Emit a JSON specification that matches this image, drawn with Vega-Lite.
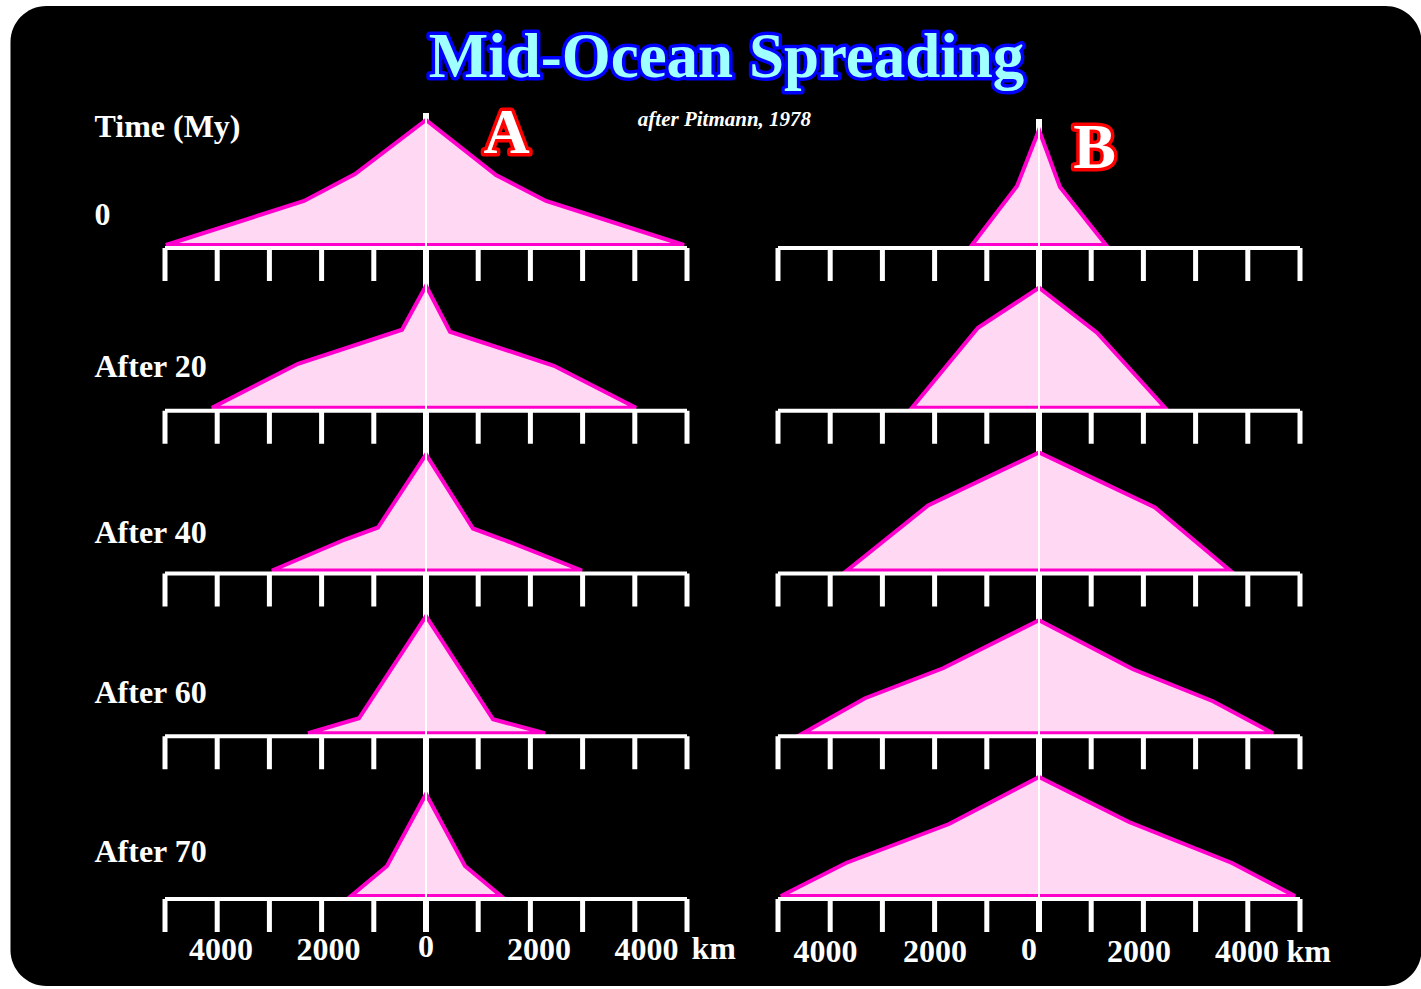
{
  "$schema": "https://vega.github.io/schema/vega-lite/v6.json",
  "background": "white",
  "padding": {"left": 10, "top": 6, "right": 0, "bottom": 3},
  "data": {"values": [
    {"kind": "panel", "col": "A", "row": 0, "top": 135},
    {"kind": "panel", "col": "A", "row": 1, "top": 133},
    {"kind": "panel", "col": "A", "row": 2, "top": 133},
    {"kind": "panel", "col": "A", "row": 3, "top": 133},
    {"kind": "panel", "col": "A", "row": 4, "top": 133},
    {"kind": "panel", "col": "B", "row": 0, "top": 129},
    {"kind": "panel", "col": "B", "row": 1, "top": 133},
    {"kind": "panel", "col": "B", "row": 2, "top": 133},
    {"kind": "panel", "col": "B", "row": 3, "top": 133},
    {"kind": "panel", "col": "B", "row": 4, "top": 133},

    {"kind": "t", "col": "A", "row": 0, "tk": -5000}, {"kind": "t", "col": "A", "row": 0, "tk": -4000}, {"kind": "t", "col": "A", "row": 0, "tk": -3000}, {"kind": "t", "col": "A", "row": 0, "tk": -2000}, {"kind": "t", "col": "A", "row": 0, "tk": -1000}, {"kind": "t", "col": "A", "row": 0, "tk": 0}, {"kind": "t", "col": "A", "row": 0, "tk": 1000}, {"kind": "t", "col": "A", "row": 0, "tk": 2000}, {"kind": "t", "col": "A", "row": 0, "tk": 3000}, {"kind": "t", "col": "A", "row": 0, "tk": 4000}, {"kind": "t", "col": "A", "row": 0, "tk": 5000},
    {"kind": "t", "col": "A", "row": 1, "tk": -5000}, {"kind": "t", "col": "A", "row": 1, "tk": -4000}, {"kind": "t", "col": "A", "row": 1, "tk": -3000}, {"kind": "t", "col": "A", "row": 1, "tk": -2000}, {"kind": "t", "col": "A", "row": 1, "tk": -1000}, {"kind": "t", "col": "A", "row": 1, "tk": 0}, {"kind": "t", "col": "A", "row": 1, "tk": 1000}, {"kind": "t", "col": "A", "row": 1, "tk": 2000}, {"kind": "t", "col": "A", "row": 1, "tk": 3000}, {"kind": "t", "col": "A", "row": 1, "tk": 4000}, {"kind": "t", "col": "A", "row": 1, "tk": 5000},
    {"kind": "t", "col": "A", "row": 2, "tk": -5000}, {"kind": "t", "col": "A", "row": 2, "tk": -4000}, {"kind": "t", "col": "A", "row": 2, "tk": -3000}, {"kind": "t", "col": "A", "row": 2, "tk": -2000}, {"kind": "t", "col": "A", "row": 2, "tk": -1000}, {"kind": "t", "col": "A", "row": 2, "tk": 0}, {"kind": "t", "col": "A", "row": 2, "tk": 1000}, {"kind": "t", "col": "A", "row": 2, "tk": 2000}, {"kind": "t", "col": "A", "row": 2, "tk": 3000}, {"kind": "t", "col": "A", "row": 2, "tk": 4000}, {"kind": "t", "col": "A", "row": 2, "tk": 5000},
    {"kind": "t", "col": "A", "row": 3, "tk": -5000}, {"kind": "t", "col": "A", "row": 3, "tk": -4000}, {"kind": "t", "col": "A", "row": 3, "tk": -3000}, {"kind": "t", "col": "A", "row": 3, "tk": -2000}, {"kind": "t", "col": "A", "row": 3, "tk": -1000}, {"kind": "t", "col": "A", "row": 3, "tk": 0}, {"kind": "t", "col": "A", "row": 3, "tk": 1000}, {"kind": "t", "col": "A", "row": 3, "tk": 2000}, {"kind": "t", "col": "A", "row": 3, "tk": 3000}, {"kind": "t", "col": "A", "row": 3, "tk": 4000}, {"kind": "t", "col": "A", "row": 3, "tk": 5000},
    {"kind": "t", "col": "A", "row": 4, "tk": -5000}, {"kind": "t", "col": "A", "row": 4, "tk": -4000}, {"kind": "t", "col": "A", "row": 4, "tk": -3000}, {"kind": "t", "col": "A", "row": 4, "tk": -2000}, {"kind": "t", "col": "A", "row": 4, "tk": -1000}, {"kind": "t", "col": "A", "row": 4, "tk": 0}, {"kind": "t", "col": "A", "row": 4, "tk": 1000}, {"kind": "t", "col": "A", "row": 4, "tk": 2000}, {"kind": "t", "col": "A", "row": 4, "tk": 3000}, {"kind": "t", "col": "A", "row": 4, "tk": 4000}, {"kind": "t", "col": "A", "row": 4, "tk": 5000},
    {"kind": "t", "col": "B", "row": 0, "tk": -5000}, {"kind": "t", "col": "B", "row": 0, "tk": -4000}, {"kind": "t", "col": "B", "row": 0, "tk": -3000}, {"kind": "t", "col": "B", "row": 0, "tk": -2000}, {"kind": "t", "col": "B", "row": 0, "tk": -1000}, {"kind": "t", "col": "B", "row": 0, "tk": 0}, {"kind": "t", "col": "B", "row": 0, "tk": 1000}, {"kind": "t", "col": "B", "row": 0, "tk": 2000}, {"kind": "t", "col": "B", "row": 0, "tk": 3000}, {"kind": "t", "col": "B", "row": 0, "tk": 4000}, {"kind": "t", "col": "B", "row": 0, "tk": 5000},
    {"kind": "t", "col": "B", "row": 1, "tk": -5000}, {"kind": "t", "col": "B", "row": 1, "tk": -4000}, {"kind": "t", "col": "B", "row": 1, "tk": -3000}, {"kind": "t", "col": "B", "row": 1, "tk": -2000}, {"kind": "t", "col": "B", "row": 1, "tk": -1000}, {"kind": "t", "col": "B", "row": 1, "tk": 0}, {"kind": "t", "col": "B", "row": 1, "tk": 1000}, {"kind": "t", "col": "B", "row": 1, "tk": 2000}, {"kind": "t", "col": "B", "row": 1, "tk": 3000}, {"kind": "t", "col": "B", "row": 1, "tk": 4000}, {"kind": "t", "col": "B", "row": 1, "tk": 5000},
    {"kind": "t", "col": "B", "row": 2, "tk": -5000}, {"kind": "t", "col": "B", "row": 2, "tk": -4000}, {"kind": "t", "col": "B", "row": 2, "tk": -3000}, {"kind": "t", "col": "B", "row": 2, "tk": -2000}, {"kind": "t", "col": "B", "row": 2, "tk": -1000}, {"kind": "t", "col": "B", "row": 2, "tk": 0}, {"kind": "t", "col": "B", "row": 2, "tk": 1000}, {"kind": "t", "col": "B", "row": 2, "tk": 2000}, {"kind": "t", "col": "B", "row": 2, "tk": 3000}, {"kind": "t", "col": "B", "row": 2, "tk": 4000}, {"kind": "t", "col": "B", "row": 2, "tk": 5000},
    {"kind": "t", "col": "B", "row": 3, "tk": -5000}, {"kind": "t", "col": "B", "row": 3, "tk": -4000}, {"kind": "t", "col": "B", "row": 3, "tk": -3000}, {"kind": "t", "col": "B", "row": 3, "tk": -2000}, {"kind": "t", "col": "B", "row": 3, "tk": -1000}, {"kind": "t", "col": "B", "row": 3, "tk": 0}, {"kind": "t", "col": "B", "row": 3, "tk": 1000}, {"kind": "t", "col": "B", "row": 3, "tk": 2000}, {"kind": "t", "col": "B", "row": 3, "tk": 3000}, {"kind": "t", "col": "B", "row": 3, "tk": 4000}, {"kind": "t", "col": "B", "row": 3, "tk": 5000},
    {"kind": "t", "col": "B", "row": 4, "tk": -5000}, {"kind": "t", "col": "B", "row": 4, "tk": -4000}, {"kind": "t", "col": "B", "row": 4, "tk": -3000}, {"kind": "t", "col": "B", "row": 4, "tk": -2000}, {"kind": "t", "col": "B", "row": 4, "tk": -1000}, {"kind": "t", "col": "B", "row": 4, "tk": 0}, {"kind": "t", "col": "B", "row": 4, "tk": 1000}, {"kind": "t", "col": "B", "row": 4, "tk": 2000}, {"kind": "t", "col": "B", "row": 4, "tk": 3000}, {"kind": "t", "col": "B", "row": 4, "tk": 4000}, {"kind": "t", "col": "B", "row": 4, "tk": 5000},

    {"kind": "p", "col": "A", "row": 0, "km": -4981, "h": 3},
    {"kind": "p", "col": "A", "row": 0, "km": -2337, "h": 47},
    {"kind": "p", "col": "A", "row": 0, "km": -1360, "h": 74},
    {"kind": "p", "col": "A", "row": 0, "km": 0, "h": 128},
    {"kind": "p", "col": "A", "row": 0, "km": 1341, "h": 73},
    {"kind": "p", "col": "A", "row": 0, "km": 2299, "h": 47},
    {"kind": "p", "col": "A", "row": 0, "km": 4943, "h": 3},

    {"kind": "p", "col": "A", "row": 1, "km": -4100, "h": 3},
    {"kind": "p", "col": "A", "row": 1, "km": -2452, "h": 47},
    {"kind": "p", "col": "A", "row": 1, "km": -460, "h": 81},
    {"kind": "p", "col": "A", "row": 1, "km": 0, "h": 125},
    {"kind": "p", "col": "A", "row": 1, "km": 460, "h": 79},
    {"kind": "p", "col": "A", "row": 1, "km": 2452, "h": 45},
    {"kind": "p", "col": "A", "row": 1, "km": 4023, "h": 3},

    {"kind": "p", "col": "A", "row": 2, "km": -2950, "h": 3},
    {"kind": "p", "col": "A", "row": 2, "km": -1552, "h": 34},
    {"kind": "p", "col": "A", "row": 2, "km": -920, "h": 46},
    {"kind": "p", "col": "A", "row": 2, "km": 0, "h": 119},
    {"kind": "p", "col": "A", "row": 2, "km": 900, "h": 45},
    {"kind": "p", "col": "A", "row": 2, "km": 1475, "h": 34},
    {"kind": "p", "col": "A", "row": 2, "km": 2988, "h": 3},

    {"kind": "p", "col": "A", "row": 3, "km": -2260, "h": 3},
    {"kind": "p", "col": "A", "row": 3, "km": -1284, "h": 18},
    {"kind": "p", "col": "A", "row": 3, "km": 0, "h": 120},
    {"kind": "p", "col": "A", "row": 3, "km": 1284, "h": 17},
    {"kind": "p", "col": "A", "row": 3, "km": 2280, "h": 3},

    {"kind": "p", "col": "A", "row": 4, "km": -1437, "h": 3},
    {"kind": "p", "col": "A", "row": 4, "km": -747, "h": 33},
    {"kind": "p", "col": "A", "row": 4, "km": 0, "h": 105},
    {"kind": "p", "col": "A", "row": 4, "km": 747, "h": 33},
    {"kind": "p", "col": "A", "row": 4, "km": 1437, "h": 3},

    {"kind": "p", "col": "B", "row": 0, "km": -1284, "h": 3},
    {"kind": "p", "col": "B", "row": 0, "km": -421, "h": 62},
    {"kind": "p", "col": "B", "row": 0, "km": 0, "h": 118},
    {"kind": "p", "col": "B", "row": 0, "km": 402, "h": 61},
    {"kind": "p", "col": "B", "row": 0, "km": 1284, "h": 3},

    {"kind": "p", "col": "B", "row": 1, "km": -2433, "h": 3},
    {"kind": "p", "col": "B", "row": 1, "km": -1169, "h": 83},
    {"kind": "p", "col": "B", "row": 1, "km": 0, "h": 123},
    {"kind": "p", "col": "B", "row": 1, "km": 1111, "h": 78},
    {"kind": "p", "col": "B", "row": 1, "km": 2414, "h": 3},

    {"kind": "p", "col": "B", "row": 2, "km": -3678, "h": 3},
    {"kind": "p", "col": "B", "row": 2, "km": -2126, "h": 68},
    {"kind": "p", "col": "B", "row": 2, "km": 0, "h": 121},
    {"kind": "p", "col": "B", "row": 2, "km": 2222, "h": 66},
    {"kind": "p", "col": "B", "row": 2, "km": 3659, "h": 3},

    {"kind": "p", "col": "B", "row": 3, "km": -4521, "h": 3},
    {"kind": "p", "col": "B", "row": 3, "km": -3333, "h": 38},
    {"kind": "p", "col": "B", "row": 3, "km": -1839, "h": 68},
    {"kind": "p", "col": "B", "row": 3, "km": 0, "h": 116},
    {"kind": "p", "col": "B", "row": 3, "km": 1801, "h": 67},
    {"kind": "p", "col": "B", "row": 3, "km": 3333, "h": 35},
    {"kind": "p", "col": "B", "row": 3, "km": 4483, "h": 3},

    {"kind": "p", "col": "B", "row": 4, "km": -4943, "h": 3},
    {"kind": "p", "col": "B", "row": 4, "km": -3697, "h": 36},
    {"kind": "p", "col": "B", "row": 4, "km": -1724, "h": 75},
    {"kind": "p", "col": "B", "row": 4, "km": 0, "h": 122},
    {"kind": "p", "col": "B", "row": 4, "km": 1724, "h": 77},
    {"kind": "p", "col": "B", "row": 4, "km": 3697, "h": 36},
    {"kind": "p", "col": "B", "row": 4, "km": 4904, "h": 3},

    {"kind": "lab", "col": "A", "row": 0, "km": -6351, "h": 111, "t": "Time (My)"},
    {"kind": "lab", "col": "A", "row": 0, "km": -6351, "h": 23, "t": "0"},
    {"kind": "lab", "col": "A", "row": 1, "km": -6351, "h": 34, "t": "After 20"},
    {"kind": "lab", "col": "A", "row": 2, "km": -6351, "h": 30.5, "t": "After 40"},
    {"kind": "lab", "col": "A", "row": 3, "km": -6351, "h": 33, "t": "After 60"},
    {"kind": "lab", "col": "A", "row": 4, "km": -6351, "h": 37, "t": "After 70"},

    {"kind": "tl", "col": "A", "row": 4, "km": -3927, "h": -61, "t": "4000"},
    {"kind": "tl", "col": "A", "row": 4, "km": -1868, "h": -61, "t": "2000"},
    {"kind": "tl", "col": "A", "row": 4, "km": 0, "h": -58, "t": "0"},
    {"kind": "tl", "col": "A", "row": 4, "km": 2165, "h": -61, "t": "2000"},
    {"kind": "tl", "col": "A", "row": 4, "km": 4224, "h": -61, "t": "4000"},
    {"kind": "tl", "col": "B", "row": 4, "km": -4090, "h": -63, "t": "4000"},
    {"kind": "tl", "col": "B", "row": 4, "km": -1992, "h": -63, "t": "2000"},
    {"kind": "tl", "col": "B", "row": 4, "km": -192, "h": -61, "t": "0"},
    {"kind": "tl", "col": "B", "row": 4, "km": 1916, "h": -63, "t": "2000"},
    {"kind": "tl", "col": "B", "row": 4, "km": 3985, "h": -63, "t": "4000"},
    {"kind": "km", "col": "A", "row": 4, "km": 5086, "h": -60, "t": "km"},
    {"kind": "km", "col": "B", "row": 4, "km": 4741, "h": -63, "t": "km"}
  ]},
  "facet": {
    "row": {"field": "row", "type": "ordinal", "header": {"labels": false, "title": null}},
    "column": {"field": "col", "type": "nominal", "header": {"labels": false, "title": null}}
  },
  "spacing": {"row": 32.75, "column": 91},
  "bounds": "flush",
  "spec": {
    "width": 522,
    "height": 130,
    "layer": [
      {
        "transform": [{"filter": "datum.kind === 'panel' && datum.col === 'A' && datum.row === 0"}],
        "mark": {"type": "rect", "fill": "black", "cornerRadius": 36},
        "encoding": {
          "x": {"datum": -7960, "type": "quantitative", "scale": {"domain": [-5000, 5000], "nice": false, "zero": false}, "axis": null},
          "x2": {"datum": 19071},
          "y": {"datum": 242, "type": "quantitative", "scale": {"domain": [0, 130], "nice": false, "zero": false}, "axis": null},
          "y2": {"datum": -738}
        }
      },
      {
        "transform": [{"filter": "datum.kind === 'panel'"}],
        "mark": {"type": "rule", "color": "white", "strokeWidth": 6},
        "encoding": {
          "x": {"datum": 0, "type": "quantitative", "scale": {"domain": [-5000, 5000], "nice": false, "zero": false}, "axis": null},
          "y": {"field": "top", "type": "quantitative", "scale": {"domain": [0, 130], "nice": false, "zero": false}, "axis": null},
          "y2": {"datum": -33}
        }
      },
      {
        "transform": [{"filter": "datum.kind === 'p'"}],
        "mark": {"type": "area", "fill": "#ffd8f4", "stroke": "#ff00cc", "strokeWidth": 4, "strokeJoin": "miter", "opacity": 1},
        "encoding": {
          "x": {"field": "km", "type": "quantitative", "scale": {"domain": [-5000, 5000], "nice": false, "zero": false}, "axis": null},
          "y": {"field": "h", "type": "quantitative", "scale": {"domain": [0, 130], "nice": false, "zero": false}, "axis": null},
          "y2": {"datum": 3}
        }
      },
      {
        "transform": [{"filter": "datum.kind === 'panel'"}],
        "mark": {"type": "rule", "color": "white", "strokeWidth": 4},
        "encoding": {
          "x": {"datum": -5000, "type": "quantitative", "scale": {"domain": [-5000, 5000], "nice": false, "zero": false}, "axis": null},
          "x2": {"datum": 5000},
          "y": {"datum": 0, "type": "quantitative", "scale": {"domain": [0, 130], "nice": false, "zero": false}, "axis": null}
        }
      },
      {
        "transform": [{"filter": "datum.kind === 't'"}],
        "mark": {"type": "rule", "color": "white", "strokeWidth": 5},
        "encoding": {
          "x": {"field": "tk", "type": "quantitative", "scale": {"domain": [-5000, 5000], "nice": false, "zero": false}, "axis": null},
          "y": {"datum": 0, "type": "quantitative", "scale": {"domain": [0, 130], "nice": false, "zero": false}, "axis": null},
          "y2": {"datum": -33}
        }
      },
      {
        "transform": [{"filter": "datum.kind === 'panel'"}],
        "mark": {"type": "rule", "color": "white", "strokeWidth": 2},
        "encoding": {
          "x": {"datum": 0, "type": "quantitative", "scale": {"domain": [-5000, 5000], "nice": false, "zero": false}, "axis": null},
          "y": {"field": "top", "type": "quantitative", "scale": {"domain": [0, 130], "nice": false, "zero": false}, "axis": null},
          "y2": {"datum": -33}
        }
      },
      {
        "transform": [{"filter": "datum.kind === 'lab'"}],
        "mark": {"type": "text", "align": "left", "baseline": "alphabetic", "font": "Liberation Serif", "fontWeight": "bold", "fontSize": 32, "color": "white"},
        "encoding": {
          "x": {"field": "km", "type": "quantitative", "scale": {"domain": [-5000, 5000], "nice": false, "zero": false}, "axis": null},
          "y": {"field": "h", "type": "quantitative", "scale": {"domain": [0, 130], "nice": false, "zero": false}, "axis": null},
          "text": {"field": "t"}
        }
      },
      {
        "transform": [{"filter": "datum.kind === 'tl'"}],
        "mark": {"type": "text", "align": "center", "baseline": "alphabetic", "font": "Liberation Serif", "fontWeight": "bold", "fontSize": 32, "color": "white"},
        "encoding": {
          "x": {"field": "km", "type": "quantitative", "scale": {"domain": [-5000, 5000], "nice": false, "zero": false}, "axis": null},
          "y": {"field": "h", "type": "quantitative", "scale": {"domain": [0, 130], "nice": false, "zero": false}, "axis": null},
          "text": {"field": "t"}
        }
      },
      {
        "transform": [{"filter": "datum.kind === 'km'"}],
        "mark": {"type": "text", "align": "left", "baseline": "alphabetic", "font": "Liberation Serif", "fontWeight": "bold", "fontSize": 32, "color": "white"},
        "encoding": {
          "x": {"field": "km", "type": "quantitative", "scale": {"domain": [-5000, 5000], "nice": false, "zero": false}, "axis": null},
          "y": {"field": "h", "type": "quantitative", "scale": {"domain": [0, 130], "nice": false, "zero": false}, "axis": null},
          "text": {"field": "t"}
        }
      },
      {
        "transform": [{"filter": "datum.kind === 'panel' && datum.col === 'A' && datum.row === 0"}],
        "mark": {"type": "text", "align": "center", "baseline": "alphabetic", "font": "Liberation Serif", "fontWeight": "bold", "fontSize": 63, "fill": "#0000ff", "stroke": "#0000ff", "strokeWidth": 7, "strokeJoin": "round"},
        "encoding": {
          "x": {"datum": 5757, "type": "quantitative", "scale": {"domain": [-5000, 5000], "nice": false, "zero": false}, "axis": null},
          "y": {"datum": 171, "type": "quantitative", "scale": {"domain": [0, 130], "nice": false, "zero": false}, "axis": null},
          "text": {"value": "Mid-Ocean Spreading"}
        }
      },
      {
        "transform": [{"filter": "datum.kind === 'panel' && datum.col === 'A' && datum.row === 0"}],
        "mark": {"type": "text", "align": "center", "baseline": "alphabetic", "font": "Liberation Serif", "fontWeight": "bold", "fontSize": 63, "fill": "#a0ffff"},
        "encoding": {
          "x": {"datum": 5757, "type": "quantitative", "scale": {"domain": [-5000, 5000], "nice": false, "zero": false}, "axis": null},
          "y": {"datum": 171, "type": "quantitative", "scale": {"domain": [0, 130], "nice": false, "zero": false}, "axis": null},
          "text": {"value": "Mid-Ocean Spreading"}
        }
      },
      {
        "transform": [{"filter": "datum.kind === 'panel' && datum.col === 'A' && datum.row === 0"}],
        "mark": {"type": "text", "align": "center", "baseline": "alphabetic", "font": "Liberation Serif", "fontWeight": "bold", "fontStyle": "italic", "fontSize": 21, "fill": "white"},
        "encoding": {
          "x": {"datum": 5718, "type": "quantitative", "scale": {"domain": [-5000, 5000], "nice": false, "zero": false}, "axis": null},
          "y": {"datum": 122, "type": "quantitative", "scale": {"domain": [0, 130], "nice": false, "zero": false}, "axis": null},
          "text": {"value": "after Pitmann, 1978"}
        }
      },
      {
        "transform": [{"filter": "datum.kind === 'panel' && datum.col === 'A' && datum.row === 0"}],
        "mark": {"type": "text", "align": "center", "baseline": "alphabetic", "font": "Liberation Serif", "fontWeight": "bold", "fontSize": 64, "fill": "#ff0000", "stroke": "#ff0000", "strokeWidth": 7, "strokeJoin": "round"},
        "encoding": {
          "x": {"datum": 1542, "type": "quantitative", "scale": {"domain": [-5000, 5000], "nice": false, "zero": false}, "axis": null},
          "y": {"datum": 95, "type": "quantitative", "scale": {"domain": [0, 130], "nice": false, "zero": false}, "axis": null},
          "text": {"value": "A"}
        }
      },
      {
        "transform": [{"filter": "datum.kind === 'panel' && datum.col === 'A' && datum.row === 0"}],
        "mark": {"type": "text", "align": "center", "baseline": "alphabetic", "font": "Liberation Serif", "fontWeight": "bold", "fontSize": 64, "fill": "white"},
        "encoding": {
          "x": {"datum": 1542, "type": "quantitative", "scale": {"domain": [-5000, 5000], "nice": false, "zero": false}, "axis": null},
          "y": {"datum": 95, "type": "quantitative", "scale": {"domain": [0, 130], "nice": false, "zero": false}, "axis": null},
          "text": {"value": "A"}
        }
      },
      {
        "transform": [{"filter": "datum.kind === 'panel' && datum.col === 'B' && datum.row === 0"}],
        "mark": {"type": "text", "align": "center", "baseline": "alphabetic", "font": "Liberation Serif", "fontWeight": "bold", "fontSize": 64, "fill": "#ff0000", "stroke": "#ff0000", "strokeWidth": 7, "strokeJoin": "round"},
        "encoding": {
          "x": {"datum": 1063, "type": "quantitative", "scale": {"domain": [-5000, 5000], "nice": false, "zero": false}, "axis": null},
          "y": {"datum": 80, "type": "quantitative", "scale": {"domain": [0, 130], "nice": false, "zero": false}, "axis": null},
          "text": {"value": "B"}
        }
      },
      {
        "transform": [{"filter": "datum.kind === 'panel' && datum.col === 'B' && datum.row === 0"}],
        "mark": {"type": "text", "align": "center", "baseline": "alphabetic", "font": "Liberation Serif", "fontWeight": "bold", "fontSize": 64, "fill": "white"},
        "encoding": {
          "x": {"datum": 1063, "type": "quantitative", "scale": {"domain": [-5000, 5000], "nice": false, "zero": false}, "axis": null},
          "y": {"datum": 80, "type": "quantitative", "scale": {"domain": [0, 130], "nice": false, "zero": false}, "axis": null},
          "text": {"value": "B"}
        }
      }
    ]
  },
  "config": {"view": {"stroke": null}, "font": "Liberation Serif"}
}
